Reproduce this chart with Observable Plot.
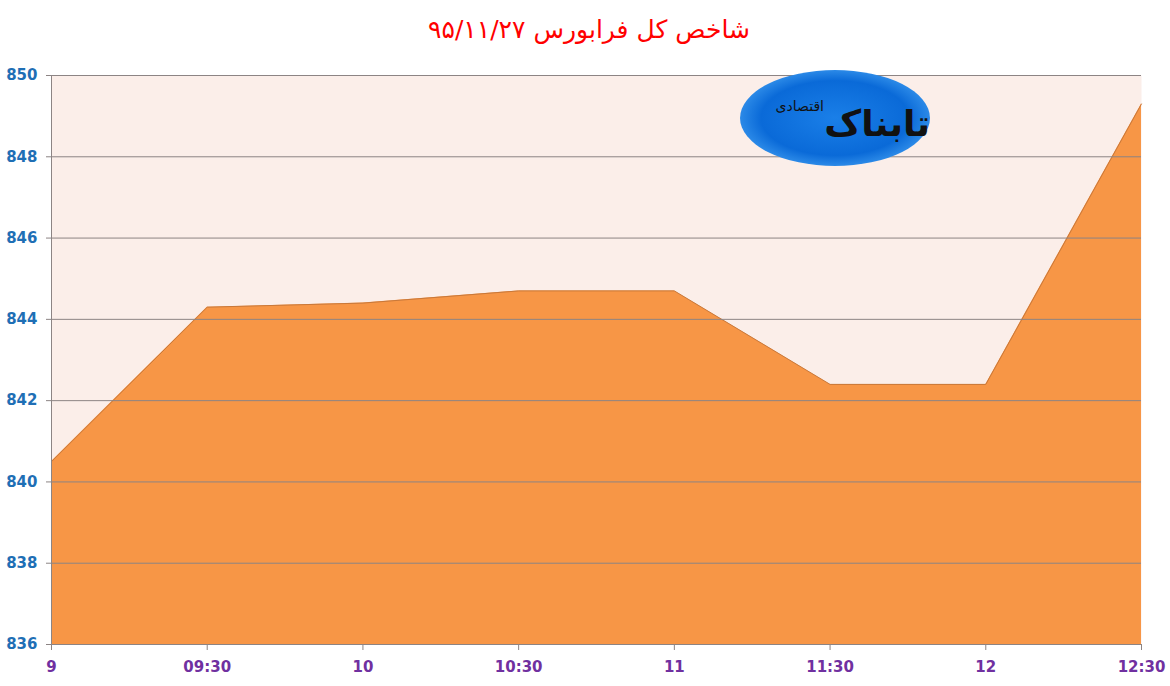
<!DOCTYPE html>
<html>
<head>
<meta charset="utf-8">
<script src="https://cdn.jsdelivr.net/npm/d3@7"></script>
<script src="https://cdn.jsdelivr.net/npm/@observablehq/plot@0.6"></script>
<style>
  html, body { margin: 0; padding: 0; background: #ffffff; }
  #wrap { position: relative; width: 1170px; height: 686px; overflow: hidden; }
  #title { height: 50px; line-height: 60px; text-align: center; color: #ff0000; padding-left: 8px;
           font-family: "DejaVu Sans", sans-serif; font-size: 25px; direction: rtl; }
  #logo { position: absolute; left: 740px; top: 70px; width: 190px; height: 96px; border-radius: 50%;
          background: radial-gradient(ellipse at 50% 50%, #1a7fe8 0%, #0a6ad8 55%, #3f9cf0 80%, rgba(255,255,255,0) 100%);
          font-family: "DejaVu Sans", sans-serif; direction: rtl; }
  #logo .big { position: absolute; right: 0px; top: 34px; font-size: 36px; line-height: 40px; font-weight: bold; color: #111; }
  #logo .small { position: absolute; right: 106px; top: 28px; font-size: 14px; line-height: 16px; color: #111; }
</style>
</head>
<body>
<div id="wrap">
  <div id="title">شاخص کل فرابورس ۹۵/۱۱/۲۷</div>
  <div id="chart"></div>
  <div id="logo"><span class="big">تابناک</span><span class="small">اقتصادی</span></div>
</div>
<script>
const categories = ["9", "09:30", "10", "10:30", "11", "11:30", "12", "12:30"];
const values = [840.5, 844.3, 844.4, 844.7, 844.7, 842.4, 842.4, 849.3];
const yTicks = [836, 838, 840, 842, 844, 846, 848, 850];

const data = categories.map((c, i) => ({i, label: c, value: values[i]}));
const xIdx = categories.map((c, i) => i);

const chart = Plot.plot({
  width: 1170,
  height: 636,
  marginTop: 25,
  marginBottom: 42,
  marginLeft: 51,
  marginRight: 29,
  style: {background: "transparent", fontFamily: "DejaVu Sans, sans-serif"},
  x: {type: "linear", domain: [0, categories.length - 1]},
  y: {domain: [836, 850]},
  marks: [
    Plot.frame({fill: "#fbeee9", stroke: null}),
    Plot.areaY(data, {x: "i", y1: 836, y2: "value", fill: "#f79646"}),
    Plot.lineY(data, {x: "i", y: "value", stroke: "#c8783a", strokeWidth: 1}),
    Plot.ruleY(yTicks.slice(1), {stroke: "#8c8484", strokeWidth: 1}),
    Plot.axisY({ticks: yTicks, tickSize: 5, tickPadding: 9, stroke: "#8c8484",
      fill: "#1f6fb5", fontSize: 15, fontWeight: "bold", label: null}),
    Plot.axisX({ticks: xIdx, tickSize: 6, tickPadding: 11, stroke: "#8c8484",
      tickFormat: i => categories[i], fill: "#7030a0", fontSize: 15, fontWeight: "bold", label: null,
      textAnchor: "middle"}),
    Plot.ruleX([0], {stroke: "#8c8484", strokeWidth: 1}),
    Plot.ruleY([836], {stroke: "#8c8484", strokeWidth: 1})
  ]
});
document.getElementById("chart").appendChild(chart);
</script>
</body>
</html>
